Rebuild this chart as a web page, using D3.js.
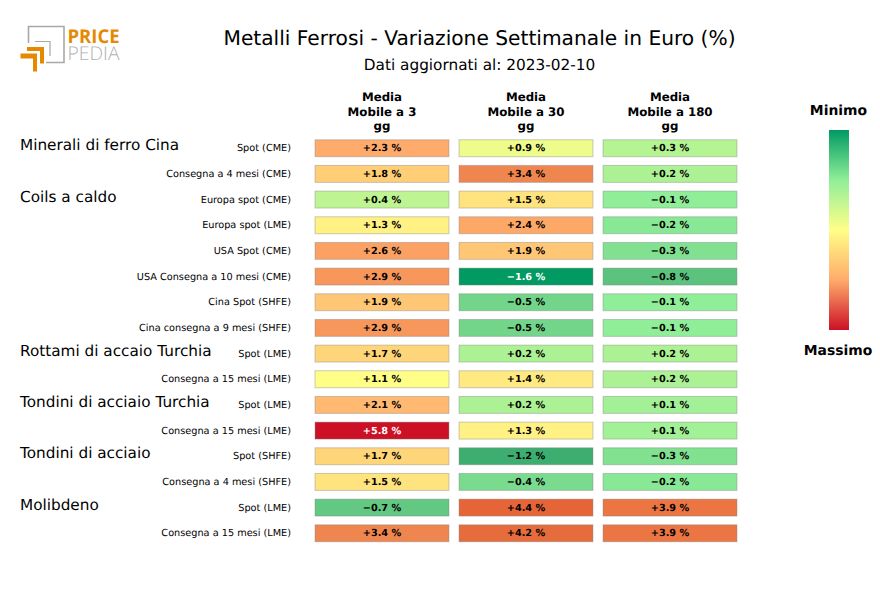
<!DOCTYPE html>
<html>
<head>
<meta charset="utf-8">
<script src="https://cdn.jsdelivr.net/npm/d3@7"></script>
<style>
  body { margin: 0; background: #fff; }
  text { font-family: "DejaVu Sans", sans-serif; fill: #000; text-rendering: geometricPrecision; }
</style>
</head>
<body>
<div id="chart"></div>
<script>
var rows = [
  { group: "Minerali di ferro Cina", label: "Spot (CME)", values: [2.3, 0.9, 0.3] },
  { group: "", label: "Consegna a 4 mesi (CME)", values: [1.8, 3.4, 0.2] },
  { group: "Coils a caldo", label: "Europa spot (CME)", values: [0.4, 1.5, -0.1] },
  { group: "", label: "Europa spot (LME)", values: [1.3, 2.4, -0.2] },
  { group: "", label: "USA Spot (CME)", values: [2.6, 1.9, -0.3] },
  { group: "", label: "USA Consegna a 10 mesi (CME)", values: [2.9, -1.6, -0.8] },
  { group: "", label: "Cina Spot (SHFE)", values: [1.9, -0.5, -0.1] },
  { group: "", label: "Cina consegna a 9 mesi (SHFE)", values: [2.9, -0.5, -0.1] },
  { group: "Rottami di accaio Turchia", label: "Spot (LME)", values: [1.7, 0.2, 0.2] },
  { group: "", label: "Consegna a 15 mesi (LME)", values: [1.1, 1.4, 0.2] },
  { group: "Tondini di acciaio Turchia", label: "Spot (LME)", values: [2.1, 0.2, 0.1] },
  { group: "", label: "Consegna a 15 mesi (LME)", values: [5.8, 1.3, 0.1] },
  { group: "Tondini di acciaio", label: "Spot (SHFE)", values: [1.7, -1.2, -0.3] },
  { group: "", label: "Consegna a 4 mesi (SHFE)", values: [1.5, -0.4, -0.2] },
  { group: "Molibdeno", label: "Spot (LME)", values: [-0.7, 4.4, 3.9] },
  { group: "", label: "Consegna a 15 mesi (LME)", values: [3.4, 4.2, 3.9] }
];
var columns = ["Media|Mobile a 3|gg", "Media|Mobile a 30|gg", "Media|Mobile a 180|gg"];

var svg = d3.select("#chart").append("svg")
  .attr("width", 880)
  .attr("height", 600);

// scales
var x = d3.scaleBand().domain([0, 1, 2]).range([310, 742]).paddingInner(0.07).paddingOuter(0.035);
var y = d3.scaleBand().domain(d3.range(rows.length)).range([135.4, 546.1]).paddingInner(0.34).paddingOuter(0.17);
var color = d3.scaleLinear()
  .domain([-1.6, -1.2, -0.7, -0.1, 1.1, 2.3, 3.4, 4.4, 5.8])
  .range(["#009a62", "#3dae70", "#63c882", "#90ee99", "#ffff88", "#ffab6b", "#f0864f", "#e56539", "#cc1126"]);
var legendStops = ["#009a62", "#90ee99", "#ffff88", "#ffab6b", "#cc1126"];

// titles
svg.append("text").attr("x", 479.5).attr("y", 45).attr("text-anchor", "middle")
  .style("font-size", "20.2px").text("Metalli Ferrosi - Variazione Settimanale in Euro (%)");
svg.append("text").attr("x", 479.5).attr("y", 70).attr("text-anchor", "middle")
  .style("font-size", "15.3px").text("Dati aggiornati al: 2023-02-10");

// logo
var logo = svg.append("g");
logo.append("path").attr("d", "M28.5 43V26.5H64V62.5H46").attr("fill", "none").attr("stroke", "#a8a8a8").attr("stroke-width", 1.6);
logo.append("path").attr("d", "M35 41.5H50V56").attr("fill", "none").attr("stroke", "#a8a8a8").attr("stroke-width", 1.2);
logo.append("path").attr("d", "M20.5 53.5H37V71.5H33V58.5H20.5Z").attr("fill", "#e58a00");
logo.append("path").attr("d", "M27 47H44V63.5H40V51H27Z").attr("fill", "#e58a00");
logo.append("text").attr("x", 67.5).attr("y", 43).style("font-size", "19px").style("font-weight", "bold")
  .style("font-family", '"Open Sans", sans-serif')
  .style("fill", "#e58a00").attr("textLength", 52).attr("lengthAdjust", "spacingAndGlyphs").text("PRICE");
logo.append("text").attr("x", 67.5).attr("y", 60).style("font-size", "19px")
  .style("font-family", '"Open Sans", sans-serif').style("font-weight", 300)
  .style("fill", "#b0b0b0").attr("textLength", 52).attr("lengthAdjust", "spacingAndGlyphs").text("PEDIA");

// column headers
columns.forEach(function (name, i) {
  var head = svg.append("text")
    .attr("text-anchor", "middle")
    .style("font-size", "11.8px")
    .style("font-weight", "bold");
  name.split("|").forEach(function (line, k) {
    head.append("tspan")
      .attr("x", x(i) + x.bandwidth() / 2)
      .attr("y", 101 + k * 14.5)
      .text(line);
  });
});

// row labels on the left
var rowAxis = d3.axisLeft(y).tickSize(0).tickPadding(0).tickFormat(function (d) { return rows[d].label; });
var axisG = svg.append("g").attr("transform", "translate(291,0)").call(rowAxis);
axisG.select(".domain").remove();
axisG.selectAll("text").style("font-size", "9.72px").style("font-family", '"DejaVu Sans", sans-serif').style("fill", "#000");

svg.selectAll(".group-label")
  .data(rows.map(function (r, i) { return { name: r.group, i: i }; }).filter(function (d) { return d.name; }))
  .enter().append("text")
  .attr("class", "group-label")
  .attr("x", 20)
  .attr("y", function (d) { return y(d.i) + y.bandwidth() / 2 + 2; })
  .style("font-size", "15.28px")
  .text(function (d) { return d.name; });

// cells
var cells = [];
rows.forEach(function (r, i) {
  r.values.forEach(function (v, j) { cells.push({ row: i, col: j, value: v }); });
});

svg.selectAll(".cell")
  .data(cells)
  .enter().append("rect")
  .attr("class", "cell")
  .attr("x", function (d) { return x(d.col); })
  .attr("y", function (d) { return y(d.row); })
  .attr("width", x.bandwidth())
  .attr("height", y.bandwidth())
  .attr("fill", function (d) { return color(d.value); })
  .attr("stroke", "#808080")
  .attr("stroke-opacity", 0.4)
  .attr("stroke-width", 1);

svg.selectAll(".cell-text")
  .data(cells)
  .enter().append("text")
  .attr("class", "cell-text")
  .attr("x", function (d) { return x(d.col) + x.bandwidth() / 2; })
  .attr("y", function (d) { return y(d.row) + y.bandwidth() / 2 + 3; })
  .attr("text-anchor", "middle")
  .style("font-size", "9.72px")
  .style("font-weight", "bold")
  .style("fill", function (d) { return (d.value === 5.8 || d.value === -1.6) ? "#fff" : "#000"; })
  .text(function (d) { return (d.value < 0 ? "\u2212" : "+") + Math.abs(d.value).toFixed(1) + " %"; });

// legend
var grad = svg.append("defs").append("linearGradient")
  .attr("id", "legend-grad").attr("x1", 0).attr("y1", 0).attr("x2", 0).attr("y2", 1);
legendStops.forEach(function (c, i) {
  grad.append("stop").attr("offset", i / (legendStops.length - 1)).attr("stop-color", c);
});
svg.append("rect").attr("x", 829).attr("y", 130).attr("width", 20).attr("height", 200).attr("fill", "url(#legend-grad)");
svg.append("text").attr("x", 838.5).attr("y", 115).attr("text-anchor", "middle")
  .style("font-size", "13.9px").style("font-weight", "bold").text("Minimo");
svg.append("text").attr("x", 838).attr("y", 355).attr("text-anchor", "middle")
  .style("font-size", "13.9px").style("font-weight", "bold").text("Massimo");
</script>
</body>
</html>
